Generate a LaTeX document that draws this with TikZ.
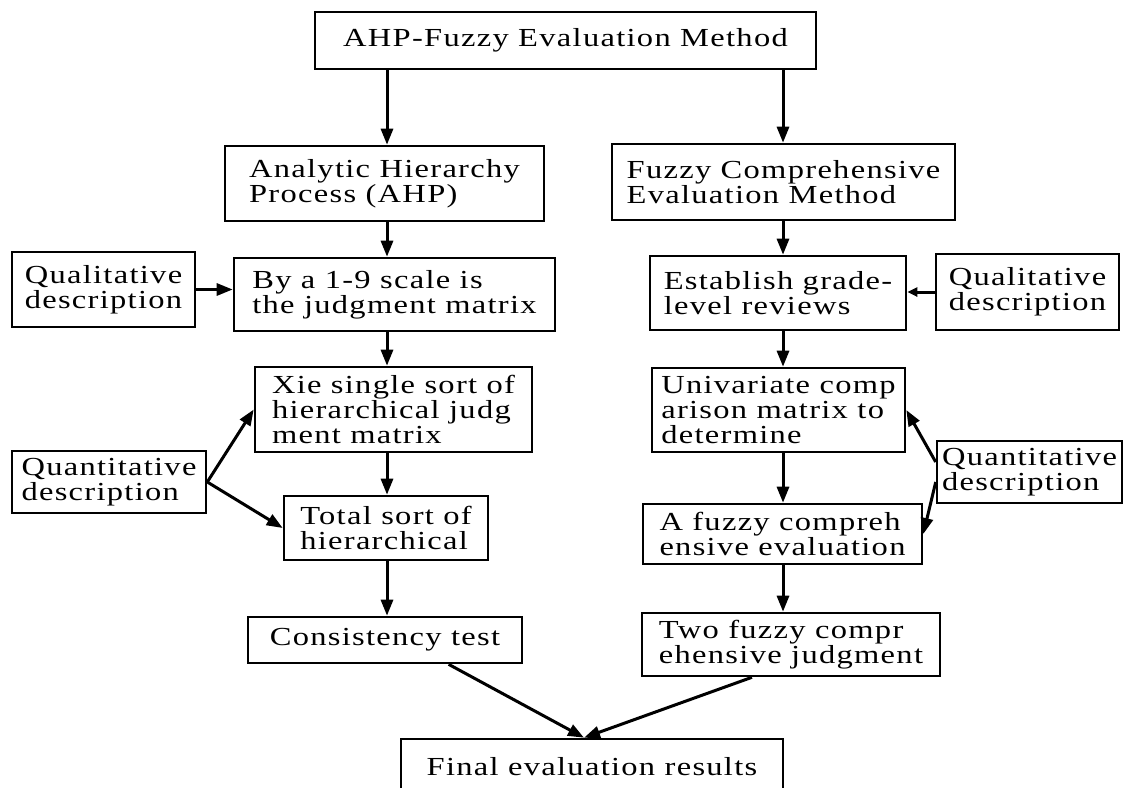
\documentclass[tikz,border=0pt]{standalone}
\usepackage{fontspec}
\setmainfont[FakeStretch=1.25, LetterSpace=5]{Liberation Serif}
\usetikzlibrary{arrows.meta, calc}

\begin{document}
\begin{tikzpicture}[x=1pt, y=-1pt, font=\fontsize{26}{25}\selectfont,
  box/.style={draw, line width=2.6pt, align=left, inner sep=0pt},
  flow/.style={line width=3pt, -{Triangle[length=16pt, width=12pt]}},
  shortflow/.style={line width=3pt, -{Triangle[length=10pt, width=9pt]}}]
  \useasboundingbox (0,0) rectangle (1126,787);
  \coordinate (colL) at (387,0);
  \coordinate (colR) at (783,0);

  % Top
  \node[box, minimum width=501pt, minimum height=57pt] (method) at (565.5,40.5) {AHP-Fuzzy Evaluation Method};

  % AHP branch
  \node[box, minimum width=319pt, minimum height=75pt] (ahp) at (384.5,183.5) {Analytic Hierarchy\\Process (AHP)};
  \node[box, minimum width=183pt, minimum height=75pt] (qualL) at (103.5,289.5) {Qualitative\\description};
  \node[box, minimum width=321pt, minimum height=73pt] (scale) at (394.5,294.5) {By a 1-9 scale is\\the judgment matrix};
  \node[box, minimum width=277pt, minimum height=85pt] (single) at (393.5,409.5) {Xie single sort of\\hierarchical judg\\ment matrix};
  \node[box, minimum width=194pt, minimum height=62pt] (quantL) at (109,482) {Quantitative\\description};
  \node[box, minimum width=204pt, minimum height=64pt] (total) at (386,528) {Total sort of\\hierarchical};
  \node[box, minimum width=274pt, minimum height=46pt] (consist) at (385,640) {Consistency test};

  % Fuzzy branch
  \node[box, minimum width=343pt, minimum height=76pt] (fcem) at (783.5,182) {Fuzzy Comprehensive\\Evaluation Method};
  \node[box, minimum width=256pt, minimum height=74pt] (grade) at (778,293) {Establish grade-\\level reviews};
  \node[box, minimum width=183pt, minimum height=76pt] (qualR) at (1027.5,292) {Qualitative\\description};
  \node[box, minimum width=253pt, minimum height=84pt] (univar) at (778.5,410) {Univariate comp\\arison matrix to\\determine};
  \node[box, minimum width=185pt, minimum height=62pt] (quantR) at (1029.5,472) {Quantitative\\description};
  \node[box, minimum width=279pt, minimum height=60pt] (fuzzyA) at (782.5,534) {A fuzzy compreh\\ensive evaluation};
  \node[box, minimum width=298pt, minimum height=63pt] (fuzzyB) at (791,644.5) {Two fuzzy compr\\ehensive judgment};

  % Result
  \node[box, minimum width=382pt, minimum height=56pt] (final) at (592,767) {Final evaluation results};

  % Connectors
  \draw[flow] (method.south -| colL) -- (ahp.north -| colL);
  \draw[flow] (method.south -| colR) -- (fcem.north -| colR);
  \draw[flow] (ahp.south -| colL) -- (scale.north -| colL);
  \draw[flow] (scale.south -| colL) -- (single.north -| colL);
  \draw[flow] (single.south -| colL) -- (total.north -| colL);
  \draw[flow] (total.south -| colL) -- (consist.north -| colL);
  \draw[flow] (qualL.east) -- (qualL.east -| scale.west);
  \draw[flow] (quantL.east) -- (single.west);
  \draw[flow] (quantL.east) -- (total.west);
  \draw[flow] (fcem.south -| colR) -- (grade.north -| colR);
  \draw[flow] (grade.south -| colR) -- (univar.north -| colR);
  \draw[flow] (univar.south -| colR) -- (fuzzyA.north -| colR);
  \draw[flow] (fuzzyA.south -| colR) -- (fuzzyB.north -| colR);
  \draw[shortflow] (qualR.west) -- (qualR.west -| grade.east);
  \draw[flow] ([yshift=10pt]quantR.west) -- (univar.east);
  \draw[flow] ([yshift=-10pt]quantR.west) -- (fuzzyA.east);
  \draw[flow] ($(consist.south west)!0.73!(consist.south east)$) -- ([xshift=-8pt]final.north);
  \draw[flow] ($(fuzzyB.south west)!0.37!(fuzzyB.south east)$) -- ([xshift=-8pt]final.north);
\end{tikzpicture}
\end{document}
